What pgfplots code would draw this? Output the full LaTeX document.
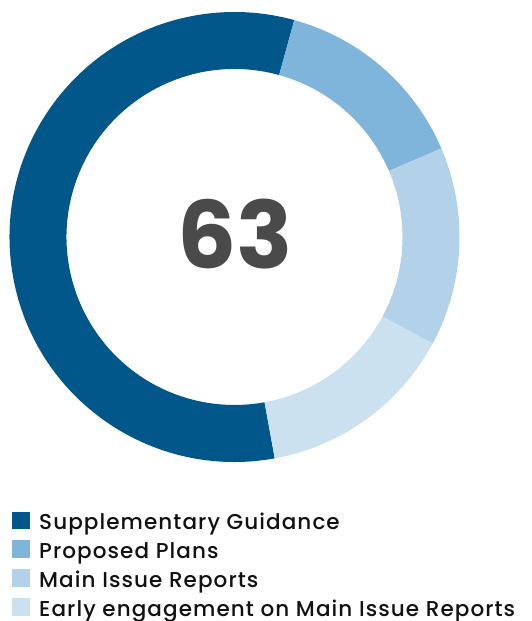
\documentclass[border=0pt]{standalone}
\usepackage{pgfplots}
\pgfplotsset{compat=1.18}
\usepackage{pgfplotstable}
\usepackage{fontspec}
\setmainfont{Poppins}
\newfontfamily\legendfont[LetterSpace=5]{Poppins Medium}
\definecolor{cSupp}{HTML}{02578A}
\definecolor{cProp}{HTML}{7FB5DB}
\definecolor{cMain}{HTML}{B3D2EA}
\definecolor{cEarly}{HTML}{CCE1F0}
\definecolor{cNum}{HTML}{4A4A4A}
\definecolor{cText}{HTML}{111111}

\pgfplotstableread[col sep=comma]{
name,value,color
Supplementary Guidance,36,cSupp
Proposed Plans,9,cProp
Main Issue Reports,9,cMain
Early engagement on Main Issue Reports,9,cEarly
}\donutdata

\def\cx{234.5}
\def\cy{384}
\def\ro{225}
\def\ri{168}
\def\total{63}

\begin{document}
\begin{tikzpicture}
\def\cura{280.3}
\pgfplotsforeachungrouped \i in {0,...,3}{%
  \pgfplotstablegetelem{\i}{value}\of\donutdata
  \pgfmathsetmacro\nexta{\cura-\pgfplotsretval/\total*360}%
  \pgfmathsetmacro\oxv{\cx+\ro*cos(\cura)}%
  \pgfmathsetmacro\oyv{\cy+\ro*sin(\cura)}%
  \pgfmathsetmacro\ixv{\cx+\ri*cos(\nexta)}%
  \pgfmathsetmacro\iyv{\cy+\ri*sin(\nexta)}%
  \expandafter\xdef\csname sa\i\endcsname{\cura}%
  \expandafter\xdef\csname ea\i\endcsname{\nexta}%
  \expandafter\xdef\csname ox\i\endcsname{\oxv}%
  \expandafter\xdef\csname oy\i\endcsname{\oyv}%
  \expandafter\xdef\csname ix\i\endcsname{\ixv}%
  \expandafter\xdef\csname iy\i\endcsname{\iyv}%
  \pgfplotstablegetelem{\i}{color}\of\donutdata
  \expandafter\xdef\csname col\i\endcsname{\pgfplotsretval}%
  \pgfplotstablegetelem{\i}{name}\of\donutdata
  \expandafter\xdef\csname nm\i\endcsname{\pgfplotsretval}%
  \xdef\cura{\nexta}%
}
\begin{axis}[
  at={(0,0)}, anchor=south west,
  scale only axis, width=532pt, height=621pt,
  xmin=0, xmax=532, ymin=0, ymax=621,
  hide axis, clip=false,
]
\pgfplotsinvokeforeach{0,...,3}{%
  \edef\seg{\noexpand\fill[fill=\csname col#1\endcsname]
    (axis cs:\csname ox#1\endcsname,\csname oy#1\endcsname)
    arc[start angle=\csname sa#1\endcsname, end angle=\csname ea#1\endcsname, radius=\ro pt]
    -- (axis cs:\csname ix#1\endcsname,\csname iy#1\endcsname)
    arc[start angle=\csname ea#1\endcsname, end angle=\csname sa#1\endcsname, radius=\ri pt]
    -- cycle;}%
  \seg
  \pgfmathsetmacro\rowtop{621-511.7-#1*28.8}%
  \pgfmathsetmacro\rowbot{\rowtop-17.6}%
  \pgfmathsetmacro\rowbase{621-529.5-#1*28.9}%
  \edef\leg{\noexpand\fill[fill=\csname col#1\endcsname]
    (axis cs:11.7,\rowbot) rectangle (axis cs:30.5,\rowtop);
    \noexpand\node[anchor=base west, inner sep=0pt, text=cText,
      font=\noexpand\legendfont\noexpand\fontsize{21.5}{24}\noexpand\selectfont]
      at (axis cs:39,\rowbase) {\csname nm#1\endcsname};}%
  \leg
}
\node[inner sep=0pt, text=cNum, font=\fontsize{93}{93}\selectfont\bfseries]
  at (axis cs:235,387) {\total};
\end{axis}
\pgfresetboundingbox
\path (0,0) rectangle (532pt,621pt);
\end{tikzpicture}
\end{document}
